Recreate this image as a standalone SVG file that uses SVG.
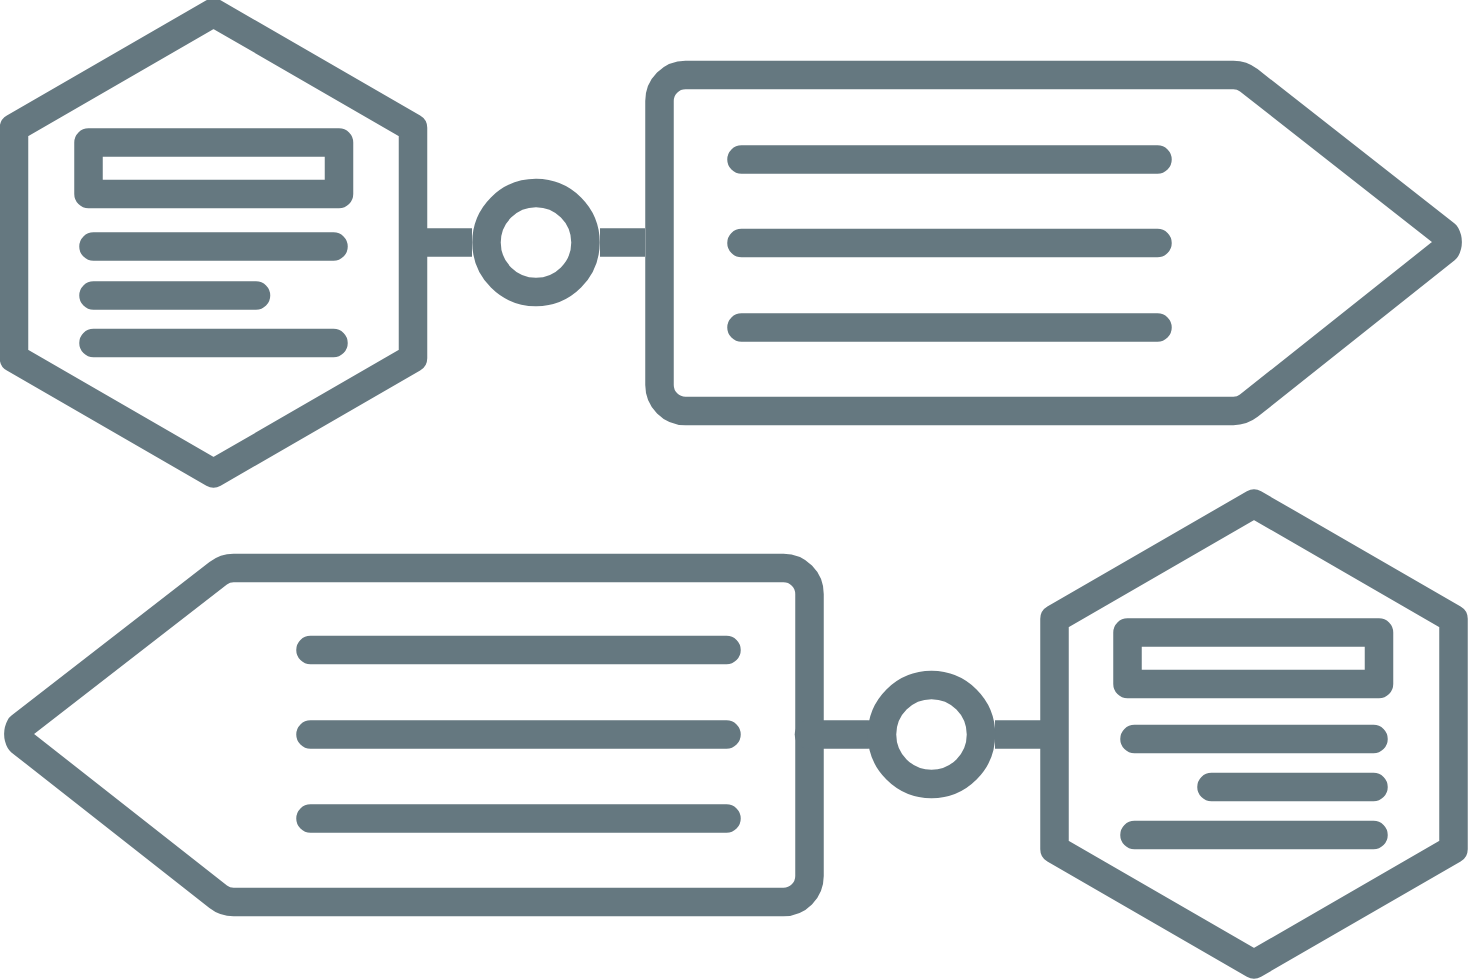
<svg xmlns="http://www.w3.org/2000/svg" width="1468" height="980" viewBox="0 0 1468 980">
<style>
.s{fill:#fff;stroke:#657880;stroke-width:28.5;stroke-linejoin:round}
.b{fill:none;stroke:#657880;stroke-width:28.5;stroke-linejoin:round}
.l{fill:none;stroke:#657880;stroke-width:28.5;stroke-linecap:round}
.c{fill:none;stroke:#657880;stroke-width:28.5;stroke-linecap:butt}
</style>
<rect width="1468" height="980" fill="#fff"/>
<g id="hex-top-left">
<polygon class="s" points="213.5,12.6 413,127.8 413,358.2 213.5,473.4 14,358.2 14,127.8"/>
<rect class="b" x="88.5" y="142.5" width="250.5" height="51.5"/>
<path class="l" d="M93.5 246.5H333.5M93.5 295.5H256M93.5 343H333.5"/>
</g>
<g id="tag-top-right">
<path class="s" d="M685.5 75H1233.4A25 25 0 0 1 1248.8 80.3L1445.8 234.8A15 15 0 0 1 1445.8 249.2L1248.8 405.7A25 25 0 0 1 1233.4 411H685.5A26 26 0 0 1 659.5 385V101A26 26 0 0 1 685.5 75Z"/>
<path class="l" d="M741.5 159.5H1157.5M741.5 243H1157.5M741.5 327.5H1157.5"/>
</g>
<g id="tag-bottom-left">
<path class="s" d="M233.6 568H783.5A26 26 0 0 1 809.5 594V876A26 26 0 0 1 783.5 902H233.6A25 25 0 0 1 218.2 896.7L20.2 741.2A15 15 0 0 1 20.2 726.8L218.2 573.3A25 25 0 0 1 233.6 568Z"/>
<path class="l" d="M310.5 650H726.5M310.5 734.5H726.5M310.5 818.5H726.5"/>
</g>
<g id="hex-bottom-right">
<polygon class="s" points="1254,503.6 1453.5,618.8 1453.5,849.2 1254,964.4 1054.5,849.2 1054.5,618.8"/>
<rect class="b" x="1127.5" y="632.5" width="251.5" height="51.5"/>
<path class="l" d="M1134.5 739H1373.5M1211.5 787H1373.5M1134.5 835H1373.5"/>
</g>
<g id="connectors">
<path class="c" d="M427 242.5H472M600 242.5H645"/>
<path class="l" d="M809 734.5H868"/>
<path class="c" d="M995 734.5H1041"/>
<circle class="s" cx="536" cy="242.5" r="49.5"/>
<circle class="s" cx="931.5" cy="734.5" r="49.5"/>
</g>
</svg>
